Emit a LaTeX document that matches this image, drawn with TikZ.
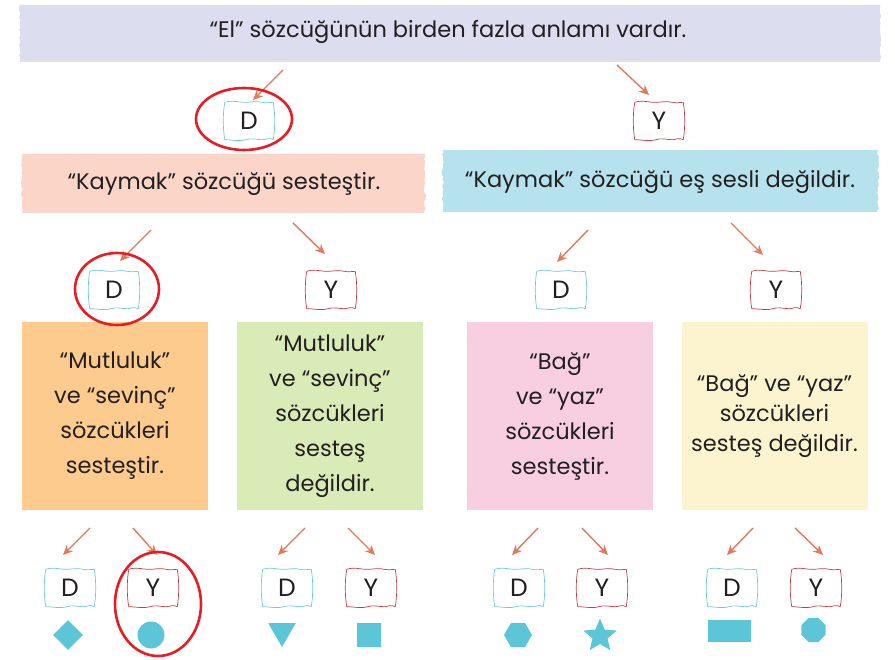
\documentclass[tikz,border=0pt]{standalone}
\usepackage{fontspec}
\setmainfont{Poppins}
\usetikzlibrary{arrows.meta,shapes.geometric,decorations.pathmorphing}

\definecolor{lavender}{RGB}{221,221,240}
\definecolor{peach}{RGB}{250,213,200}
\definecolor{skyblue}{RGB}{181,226,237}
\definecolor{orangecard}{RGB}{253,203,142}
\definecolor{greencard}{RGB}{217,235,182}
\definecolor{pinkcard}{RGB}{248,206,225}
\definecolor{yellowcard}{RGB}{252,244,207}
\definecolor{dframe}{RGB}{110,200,222}
\definecolor{yframe}{RGB}{200,60,70}
\definecolor{arrowc}{RGB}{226,120,92}
\definecolor{ringc}{RGB}{228,30,36}
\definecolor{shapec}{RGB}{92,198,216}
\definecolor{ink}{RGB}{35,31,32}

% wavy frame round an answer box
\newcommand\wavyframe[2]{\draw[#2, line width=0.7pt, line join=round]
  (#1.north west) .. controls +(8,-2.5) and +(-8,0) .. ([xshift=-4pt]#1.north)
  .. controls +(8,0) and +(-8,-1.5) .. ([xshift=13pt]#1.north)
  .. controls +(5,1) and +(-3,0) .. (#1.north east)
  .. controls +(2,10) and +(2,-10) .. (#1.south east)
  .. controls +(-4,-2.5) and +(4,0) .. ([xshift=13pt]#1.south)
  .. controls +(-5,0) and +(5,-2) .. ([xshift=-3pt]#1.south)
  .. controls +(-8,2) and +(8,0) .. (#1.south west)
  .. controls +(-2,-10) and +(-2,10) .. (#1.north west);}

\tikzset{
  txt/.style={text=ink, font=\fontsize{22.5}{35}\selectfont, align=center, inner sep=0pt},
  torn/.style={decoration={random steps, segment length=2.5pt, amplitude=1.1pt}},
  card/.style={txt, minimum width=186pt, minimum height=187pt},
  abox/.style={txt, font=\fontsize{25}{30}\selectfont, minimum width=48pt, minimum height=37pt},
  arr/.style={-{Stealth[length=10pt,width=9pt]}, draw=arrowc, line width=1.4pt},
  ring/.style={draw=ringc, line width=2.6pt},
  shp/.style={fill=shapec, inner sep=0pt},
}

\begin{document}
\begin{tikzpicture}[x=1pt,y=-1pt]
\useasboundingbox (0,0) rectangle (895,660);
\pgfmathsetseed{7}

% banners
\fill[black!12] (20,7) -- (880,7) -- (880,62) -- (20,62) -- cycle;
\fill[lavender, torn] (20,5) -- (880,5) decorate {-- (880,60)} -- (20,60) decorate {-- (20,5)} -- cycle;
\fill[peach, torn] (22,154) -- (425,154) decorate {-- (425,213)} -- (22,213) decorate {-- (22,154)} -- cycle;
\fill[skyblue, torn] (443,150) -- (878,150) decorate {-- (878,212)} -- (443,212) decorate {-- (443,150)} -- cycle;
\node[txt] (q0) at (448,32) {“El” sözcüğünün birden fazla anlamı vardır.};
\node[txt] (q1) at (224,184) {“Kaymak” sözcüğü sesteştir.};
\node[txt] (q2) at (660,182) {“Kaymak” sözcüğü eş sesli değildir.};

% cards
\node[card, fill=orangecard] (c1) at (115,416) {“Mutluluk”\\ve “sevinç”\\sözcükleri\\sesteştir.};
\node[card, fill=greencard] (c2) at (330,416) {“Mutluluk”\\ve “sevinç”\\sözcükleri\\sesteş\\değildir.};
\node[card, fill=pinkcard] (c3) at (560,416) {“Bağ”\\ve “yaz”\\sözcükleri\\sesteştir.};
\node[card, fill=yellowcard, font=\fontsize{22.5}{30}\selectfont] (c4) at (774.5,416) {“Bağ” ve “yaz”\\sözcükleri\\sesteş değildir.};

% answer boxes
\node[abox] (d0) at (249,121) {D};
\node[abox] (y0) at (659,121) {Y};
\node[abox] (d1) at (114,290) {D};
\node[abox] (y1) at (331,290) {Y};
\node[abox] (d2) at (561,290) {D};
\node[abox] (y2) at (776,290) {Y};
\node[abox] (d3) at (70,588) {D};
\node[abox] (y3) at (153,588) {Y};
\node[abox] (d4) at (287,588) {D};
\node[abox] (y4) at (371,588) {Y};
\node[abox] (d5) at (519,588) {D};
\node[abox] (y5) at (602,588) {Y};
\node[abox] (d6) at (732,588) {D};
\node[abox] (y6) at (816,588) {Y};
\foreach \n in {d0,d1,d2,d3,d4,d5,d6} {\wavyframe{\n}{dframe}}
\foreach \n in {y0,y1,y2,y3,y4,y5,y6} {\wavyframe{\n}{yframe}}

% arrow ends
\coordinate (s0) at (283,70);  \coordinate (e0) at (253,100);
\coordinate (t0) at (617,65);  \coordinate (f0) at (649,95);
\coordinate (s1) at (151,230); \coordinate (e1) at (120,261);
\coordinate (t1) at (293,223); \coordinate (f1) at (325,254);
\coordinate (s2) at (588,230); \coordinate (e2) at (557,262);
\coordinate (t2) at (731,223); \coordinate (f2) at (763,255);
\coordinate (s3) at (90,528);  \coordinate (e3) at (63,555);
\coordinate (t3) at (133,528); \coordinate (f3) at (157,555);
\coordinate (s4) at (305,528); \coordinate (e4) at (278,555);
\coordinate (t4) at (348,528); \coordinate (f4) at (375,555);
\coordinate (s5) at (538,528); \coordinate (e5) at (512,555);
\coordinate (t5) at (582,528); \coordinate (f5) at (608,555);
\coordinate (s6) at (753,528); \coordinate (e6) at (727,555);
\coordinate (t6) at (795,528); \coordinate (f6) at (823,555);
\draw [arr] (s0) -- (e0);
\draw [arr] (t0) -- (f0);
\draw [arr] (s1) -- (e1);
\draw [arr] (t1) -- (f1);
\draw [arr] (s2) -- (e2);
\draw [arr] (t2) -- (f2);
\draw [arr] (s3) -- (e3);
\draw [arr] (t3) -- (f3);
\draw [arr] (s4) -- (e4);
\draw [arr] (t4) -- (f4);
\draw [arr] (s5) -- (e5);
\draw [arr] (t5) -- (f5);
\draw [arr] (s6) -- (e6);
\draw [arr] (t6) -- (f6);

% symbols
\node[shp, diamond, minimum width=30pt, minimum height=30pt] (m3) at (68,635) {};
\node[shp, circle, minimum size=27pt] (n3) at (151,635) {};
\node[shp, regular polygon, regular polygon sides=3, shape border rotate=180, minimum size=32pt] (m4) at (282,631) {};
\node[shp, rectangle, minimum size=24pt] (n4) at (369,635) {};
\node[shp, regular polygon, regular polygon sides=6, minimum size=28pt] (m5) at (518,635) {};
\node[shp, star, star points=5, star point ratio=2.2, minimum size=35pt] (n5) at (600,636) {};
\node[shp, rectangle, minimum width=43pt, minimum height=22pt] (m6) at (729.5,631) {};
\node[shp, regular polygon, regular polygon sides=8, minimum size=26pt] (n6) at (813.5,630) {};

% marked answers
\draw[ring] (244,119) ellipse [x radius=48pt, y radius=31pt];
\draw[ring] (117,289) ellipse [x radius=42pt, y radius=36pt];
\draw[ring] (158,604) ellipse [x radius=43pt, y radius=52pt];
\end{tikzpicture}
\end{document}
